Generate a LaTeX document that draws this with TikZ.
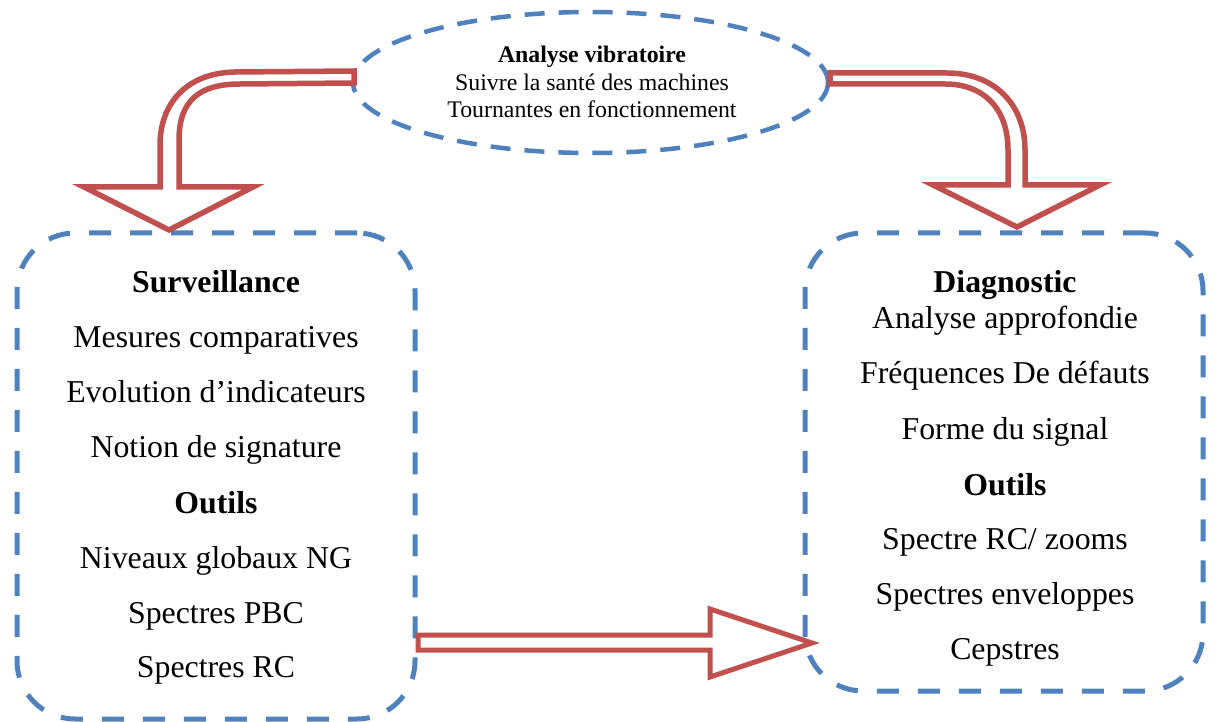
\documentclass[tikz,border=0pt]{standalone}
\usepackage{fontspec}
\setmainfont{Liberation Serif}
\usetikzlibrary{shapes.geometric}
\definecolor{frameblue}{HTML}{4F81BD}
\definecolor{arrowred}{HTML}{C0504D}
\begin{document}
\begin{tikzpicture}[x=1pt,y=-1pt,
  panel/.style={draw=frameblue, line width=5pt, dash pattern=on 22pt off 19pt,
    rounded corners=58pt, rectangle, inner sep=0pt},
  oval/.style={draw=frameblue, line width=4.5pt, dash pattern=on 20pt off 14pt,
    ellipse, inner sep=0pt},
  blockarrow/.style={draw=arrowred, fill=white, line width=5.5pt, line join=miter},
  big/.style={anchor=base, inner sep=0pt, font=\fontsize{31.8}{38}\selectfont},
  bigbold/.style={big, font=\fontsize{31.8}{38}\selectfont\bfseries},
  small/.style={anchor=base, inner sep=0pt, font=\fontsize{23.8}{27}\selectfont},
  smallbold/.style={small, font=\fontsize{23.8}{27}\selectfont\bfseries}]
\useasboundingbox (0,0) rectangle (1216,722);

% frames
\node[panel, minimum width=398pt, minimum height=486pt] (surv) at (216,476) {};
\node[panel, minimum width=398pt, minimum height=458pt] (diag) at (1004,462) {};
\node[oval, minimum width=475pt, minimum height=141pt] (top) at (590.5,82.5) {};

% heading in the ellipse
\node[smallbold] (t1) at (592,63) {Analyse vibratoire};
\node[small] (t2) at (592,91) {Suivre la santé des machines};
\node[small] (t3) at (592,118) {Tournantes en fonctionnement};

% left panel text
\node[bigbold] (s1) at (216,293) {Surveillance};
\node[big] (s2) at (216,347) {Mesures comparatives};
\node[big] (s3) at (216,402) {Evolution d’indicateurs};
\node[big] (s4) at (216,457) {Notion de signature};
\node[bigbold] (s5) at (216,513) {Outils};
\node[big] (s6) at (216,568) {Niveaux globaux NG};
\node[big] (s7) at (216,623) {Spectres PBC};
\node[big] (s8) at (216,677) {Spectres RC};

% right panel text
\node[bigbold] (d1) at (1005,292) {Diagnostic};
\node[big] (d2) at (1005,328) {Analyse approfondie};
\node[big] (d3) at (1005,383) {Fréquences De défauts};
\node[big] (d4) at (1005,439) {Forme du signal};
\node[bigbold] (d5) at (1005,495) {Outils};
\node[big] (d6) at (1005,549) {Spectre RC/ zooms};
\node[big] (d7) at (1005,604) {Spectres enveloppes};
\node[big] (d8) at (1005,659) {Cepstres};

% curved block arrow to the left panel
\draw[blockarrow] (169,230) -- (253,187) -- (179,187) -- (179,140)
  .. controls (179,100) and (200,84) .. (240,84) -- (354,83) -- (354,71)
  -- (235,72) .. controls (185,73) and (160,105) .. (160,145)
  -- (160,187) -- (84,187) -- cycle;

% curved block arrow to the right panel
\draw[blockarrow] (1017,227) -- (933,185) -- (1008,185) -- (1008,150)
  .. controls (1008,110) and (985,84) .. (945,84) -- (830,84) -- (830,73)
  -- (947,73) .. controls (995,73) and (1025,105) .. (1025,150)
  -- (1025,185) -- (1100,185) -- cycle;

% straight block arrow between the panels
\draw[blockarrow, line width=5pt] (418,635) -- (710,635) -- (710,609) -- (812,643)
  -- (710,677) -- (710,650) -- (418,650) -- cycle;
\end{tikzpicture}
\end{document}
